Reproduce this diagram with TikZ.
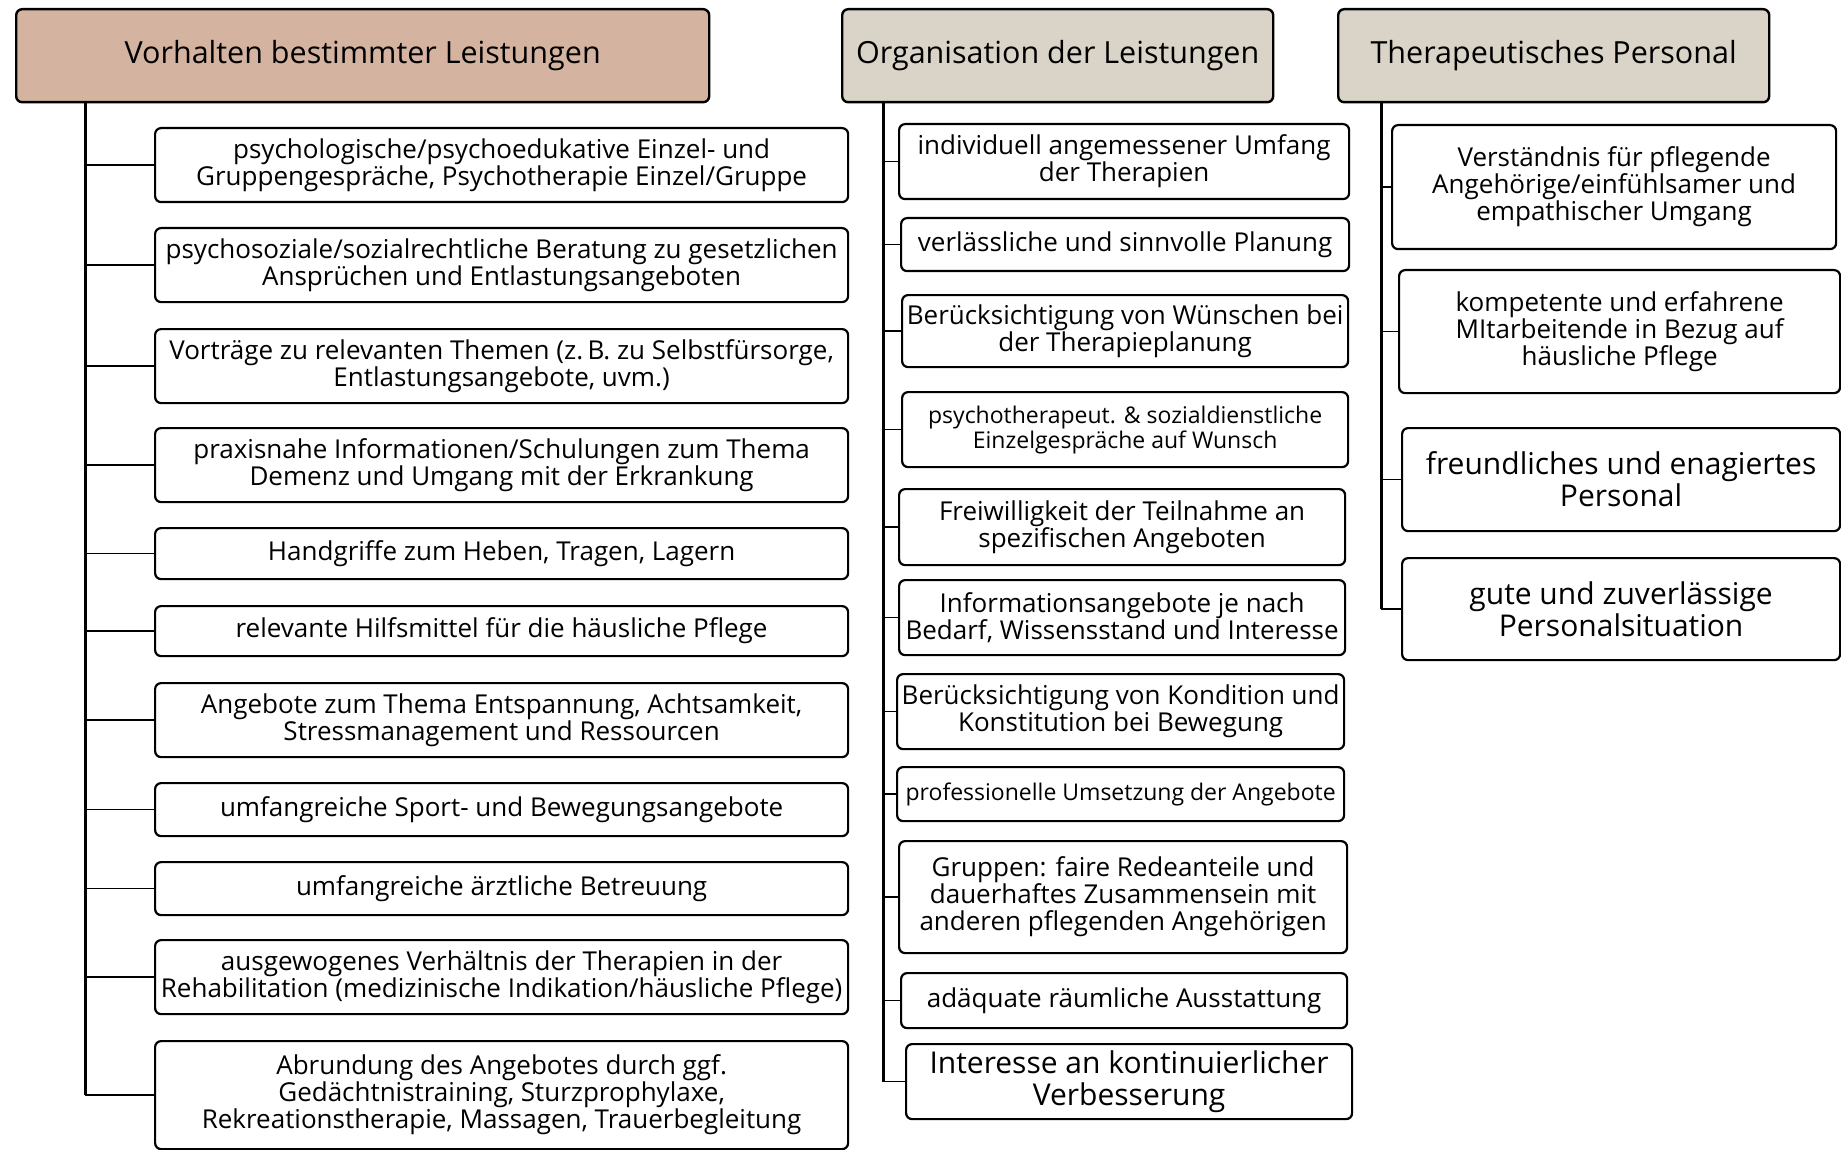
\documentclass[tikz,border=0pt]{standalone}
\usepackage{fontspec}
\setmainfont{Open Sans}
\usepackage{xcolor}
\definecolor{headtan}{HTML}{D4B4A0}
\definecolor{headgrey}{HTML}{D9D4C7}
\usetikzlibrary{calc}

\begin{document}
\begin{tikzpicture}[x=1pt, y=-1pt,
    box/.style={draw, rounded corners=6pt, line width=2.2pt, fill=white, anchor=north west,
                align=center, inner sep=0pt, font=\fontsize{26}{27}\selectfont},
    head/.style={box, line width=2.4pt, font=\fontsize{30.5}{33}\selectfont},
    big/.style={font=\fontsize{30}{32}\selectfont},
    trunk/.style={line width=3pt},
    conn/.style={line width=1.6pt}]
                      \useasboundingbox (0,0) rectangle (1841,1150);

                      % headers
                      \node[head, fill=headtan, minimum width=693pt, minimum height=93pt] (h1) at (15,8) {Vorhalten bestimmter Leistungen};
                      \node[head, fill=headgrey, minimum width=431pt, minimum height=93pt] (h2) at (841,8) {Organisation der Leistungen};
                      \node[head, fill=headgrey, minimum width=431pt, minimum height=93pt] (h3) at (1337,8) {Therapeutisches Personal};

                      % left column
                      \node[box, minimum width=693pt, minimum height=74pt] (l1) at (154,127) {psychologische/psychoedukative Einzel- und\\Gruppengespräche, Psychotherapie Einzel/Gruppe};
                      \node[box, minimum width=693pt, minimum height=74pt] (l2) at (154,227) {psychosoziale/sozialrechtliche Beratung zu gesetzlichen\\Ansprüchen und Entlastungsangeboten};
                      \node[box, minimum width=693pt, minimum height=74pt] (l3) at (154,328) {Vorträge zu relevanten Themen (z.\,B. zu Selbstfürsorge,\\Entlastungsangebote, uvm.)};
                      \node[box, minimum width=693pt, minimum height=74pt] (l4) at (154,427) {praxisnahe Informationen/Schulungen zum Thema\\Demenz und Umgang mit der Erkrankung};
                      \node[box, minimum width=693pt, minimum height=51pt] (l5) at (154,527) {Handgriffe zum Heben, Tragen, Lagern};
                      \node[box, minimum width=693pt, minimum height=50pt] (l6) at (154,605) {relevante Hilfsmittel für die häusliche Pflege};
                      \node[box, minimum width=693pt, minimum height=74pt] (l7) at (154,682) {Angebote zum Thema Entspannung, Achtsamkeit,\\Stressmanagement und Ressourcen};
                      \node[box, minimum width=693pt, minimum height=53pt] (l8) at (154,782) {umfangreiche Sport- und Bewegungsangebote};
                      \node[box, minimum width=693pt, minimum height=53pt] (l9) at (154,861) {umfangreiche ärztliche Betreuung};
                      \node[box, minimum width=693pt, minimum height=74pt] (l10) at (154,939) {ausgewogenes Verhältnis der Therapien in der\\Rehabilitation (medizinische Indikation/häusliche Pflege)};
                      \node[box, minimum width=693pt, minimum height=108pt] (l11) at (154,1040) {Abrundung des Angebotes durch ggf.\\Gedächtnistraining, Sturzprophylaxe,\\Rekreationstherapie, Massagen, Trauerbegleitung};

                      % middle column
                      \node[box, minimum width=450pt, minimum height=75pt] (m1) at (898,123) {individuell angemessener Umfang\\der Therapien};
                      \node[box, minimum width=448pt, minimum height=53pt] (m2) at (900,217) {verlässliche und sinnvolle Planung};
                      \node[box, minimum width=446pt, minimum height=72pt] (m3) at (901,294) {Berücksichtigung von Wünschen bei\\der Therapieplanung};
                      \node[box, minimum width=446pt, minimum height=75pt, font=\fontsize{23}{25}\selectfont] (m4) at (901,391) {psychotherapeut. \& sozialdienstliche\\Einzelgespräche auf Wunsch};
                      \node[box, minimum width=446pt, minimum height=76pt] (m5) at (898,488) {Freiwilligkeit der Teilnahme an\\spezifischen Angeboten};
                      \node[box, minimum width=446pt, minimum height=75pt] (m6) at (898,579) {Informationsangebote je nach\\Bedarf, Wissensstand und Interesse};
                      \node[box, minimum width=447pt, minimum height=75pt] (m7) at (896,673) {Berücksichtigung von Kondition und\\Konstitution bei Bewegung};
                      \node[box, minimum width=447pt, minimum height=54pt, font=\fontsize{23}{25}\selectfont] (m8) at (896,766) {professionelle Umsetzung der Angebote};
                      \node[box, minimum width=448pt, minimum height=112pt] (m9) at (898,840) {Gruppen: faire Redeanteile und\\dauerhaftes Zusammensein mit\\anderen pflegenden Angehörigen};
                      \node[box, minimum width=446pt, minimum height=55pt] (m10) at (900,972) {adäquate räumliche Ausstattung};
                      \node[box, big, minimum width=446pt, minimum height=75pt] (m11) at (905,1043) {Interesse an kontinuierlicher\\Verbesserung};

                      % right column
                      \node[box, minimum width=444pt, minimum height=124pt] (r1) at (1391,124) {Verständnis für pflegende\\Angehörige/einfühlsamer und\\empathischer Umgang};
                      \node[box, minimum width=441pt, minimum height=123pt] (r2) at (1398,269) {kompetente und erfahrene\\MItarbeitende in Bezug auf\\häusliche Pflege};
                      \node[box, big, minimum width=438pt, minimum height=103pt] (r3) at (1401,427) {freundliches und enagiertes\\Personal};
                      \node[box, big, minimum width=438pt, minimum height=102pt] (r4) at (1401,557) {gute und zuverlässige\\Personalsituation};

                      % trunks and branches
                      \coordinate (tl) at (85,101);
                      \coordinate (tm) at (883,101);
                      \coordinate (tr) at (1381,101);
                      \draw[trunk] (tl) -- (tl |- l11.west);
                      \draw[trunk] (tm) -- (tm |- m11.west);
                      \draw[trunk] (tr) -- (tr |- r4.west);
                      \foreach \n in {l1,l2,l3,l4,l5,l6,l7,l8,l9,l10,l11}
                        \draw[conn] (tl |- \n.west) -- (\n.west);
                      \foreach \n in {m1,m2,m3,m4,m5,m6,m7,m8,m9,m10,m11}
                        \draw[conn] (tm |- \n.west) -- (\n.west);
                      \foreach \n in {r1,r2,r3,r4}
                        \draw[conn] (tr |- \n.west) -- (\n.west);

                    \end{tikzpicture}
\end{document}
